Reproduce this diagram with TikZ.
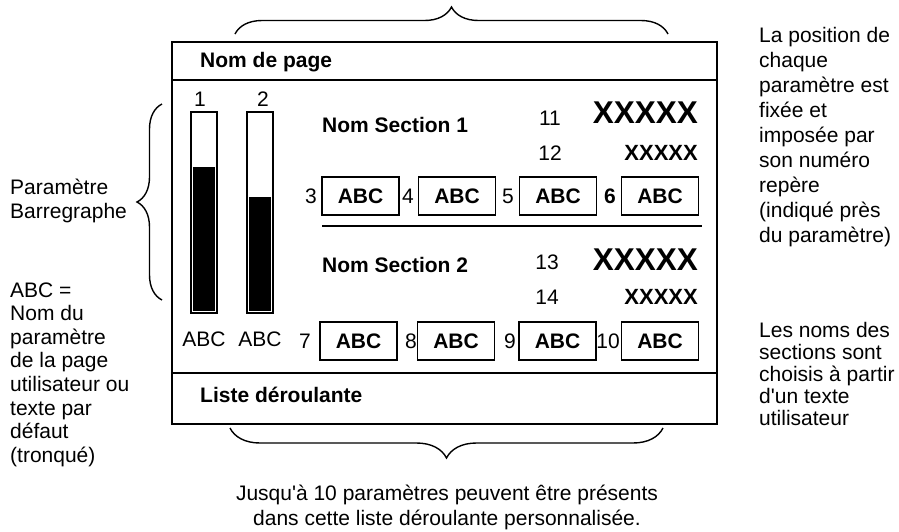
\documentclass[tikz,border=0pt]{standalone}
\usepackage{fontspec}
\setmainfont{Liberation Sans}
\usetikzlibrary{decorations.pathreplacing}

\begin{document}
\begin{tikzpicture}[
    x=1pt, y=-1pt,
    font=\fontsize{21}{24}\selectfont,
    frame/.style={draw, line width=1.6pt, minimum width=545pt, minimum height=382pt, inner sep=0pt},
    rule/.style={line width=1.6pt},
    title/.style={font=\fontsize{21}{24}\selectfont\bfseries, anchor=west, inner sep=0pt},
    parambox/.style={draw, line width=1.3pt, minimum width=77pt, minimum height=38pt, inner sep=0pt, font=\fontsize{21}{24}\selectfont\bfseries},
    num/.style={inner sep=0pt},
    bar/.style={draw, line width=1.6pt, minimum width=26pt, minimum height=201pt, inner sep=0pt},
    bigval/.style={anchor=east, inner sep=0pt, font=\fontsize{31.5}{34}\selectfont\bfseries},
    smallval/.style={anchor=east, inner sep=0pt, font=\fontsize{22}{24}\selectfont\bfseries},
    note/.style={align=left, anchor=west, inner sep=0pt},
    brace/.style={decorate, line width=1.4pt},
]
    \useasboundingbox (0,0) rectangle (899,531);

    % =====================================================================
    % PAGE FRAME
    % =====================================================================
    \node[frame] (page) at (444.5, 233) {};
    \draw[rule] (page.west |- 0,80) -- (page.east |- 0,80);
    \draw[rule] (page.west |- 0,373) -- (page.east |- 0,373);
    \node[title] (pagename) at (200, 62) {Nom de page};
    \node[title] (scroll) at (200, 395) {Liste déroulante};

    % Bar graphs
    \node[bar] (bar1) at (204, 212.5) {};
    \node[bar] (bar2) at (260, 212.5) {};
    \fill ([xshift=2.5pt,yshift=2.5pt]bar1.south west) rectangle ([xshift=-2.5pt]bar1.east |- 0,167);
    \fill ([xshift=2.5pt,yshift=2.5pt]bar2.south west) rectangle ([xshift=-2.5pt]bar2.east |- 0,197);
    \node[num] (n1) at (200, 99) {1};
    \node[num] (n2) at (263, 99) {2};
    \node[num] (lbl1) at (204, 339) {ABC};
    \node[num] (lbl2) at (260, 339) {ABC};

    % Section 1
    \node[title] (sec1) at (322, 125) {Nom Section 1};
    \node[num] (n11) at (550, 118) {11};
    \node[bigval] (v11) at (698, 113) {XXXXX};
    \node[num] (n12) at (550, 153) {12};
    \node[smallval] (v12) at (698, 153) {XXXXX};

    \node[num] (n3) at (311, 196) {3};
    \node[parambox] (p3) at (360.5, 196) {ABC};
    \node[num] (n4) at (408, 196) {4};
    \node[parambox] (p4) at (457, 196) {ABC};
    \node[num] (n5) at (508, 196) {5};
    \node[parambox] (p5) at (558, 196) {ABC};
    \node[num, font=\fontsize{21}{24}\selectfont\bfseries] (n6) at (610, 196) {6};
    \node[parambox] (p6) at (660, 196) {ABC};

    \draw[rule] (322, 226) -- (702, 226);

    % Section 2
    \node[title] (sec2) at (322, 265) {Nom Section 2};
    \node[num] (n13) at (547, 262) {13};
    \node[bigval] (v13) at (698, 260) {XXXXX};
    \node[num] (n14) at (547, 297) {14};
    \node[smallval] (v14) at (698, 297) {XXXXX};

    \node[num] (n7) at (305, 341) {7};
    \node[parambox] (p7) at (358.5, 341) {ABC};
    \node[num] (n8) at (411, 341) {8};
    \node[parambox] (p8) at (456, 341) {ABC};
    \node[num] (n9) at (510, 341) {9};
    \node[parambox] (p9) at (557.5, 341) {ABC};
    \node[num] (n10) at (608, 341) {10};
    \node[parambox] (p10) at (660, 341) {ABC};

    % =====================================================================
    % BRACES AND NOTES
    % =====================================================================
    \draw[brace, decoration={brace, amplitude=27pt}] (235, 34) -- (668, 34);
    \draw[brace, decoration={brace, amplitude=25pt}] (162, 300) -- (162, 104);
    \draw[brace, decoration={brace, amplitude=30pt}] (663, 428) -- (230, 428);

    \node[note] (barnote) at (10, 200.5) {Paramètre\\Barregraphe};
    \node[note, font=\fontsize{21}{23.6}\selectfont] (abcnote) at (10, 374.5)
        {ABC =\\Nom du\\paramètre\\de la page\\utilisateur ou\\texte par\\défaut\\(tronqué)};
    \node[note, font=\fontsize{21}{25}\selectfont] (posnote) at (759, 137)
        {La position de\\chaque\\paramètre est\\fixée et\\imposée par\\son numéro\\repère\\(indiqué près\\du paramètre)};
    \node[note, font=\fontsize{21}{22}\selectfont] (secnote) at (759, 373.5)
        {Les noms des\\sections sont\\choisis à partir\\d\textquotesingle un texte\\utilisateur};
    \node[align=center, inner sep=0pt, font=\fontsize{21}{25}\selectfont] (listnote) at (447, 507.5)
        {Jusqu\textquotesingle à 10 paramètres peuvent être présents\\dans cette liste déroulante personnalisée.};

\end{tikzpicture}
\end{document}
